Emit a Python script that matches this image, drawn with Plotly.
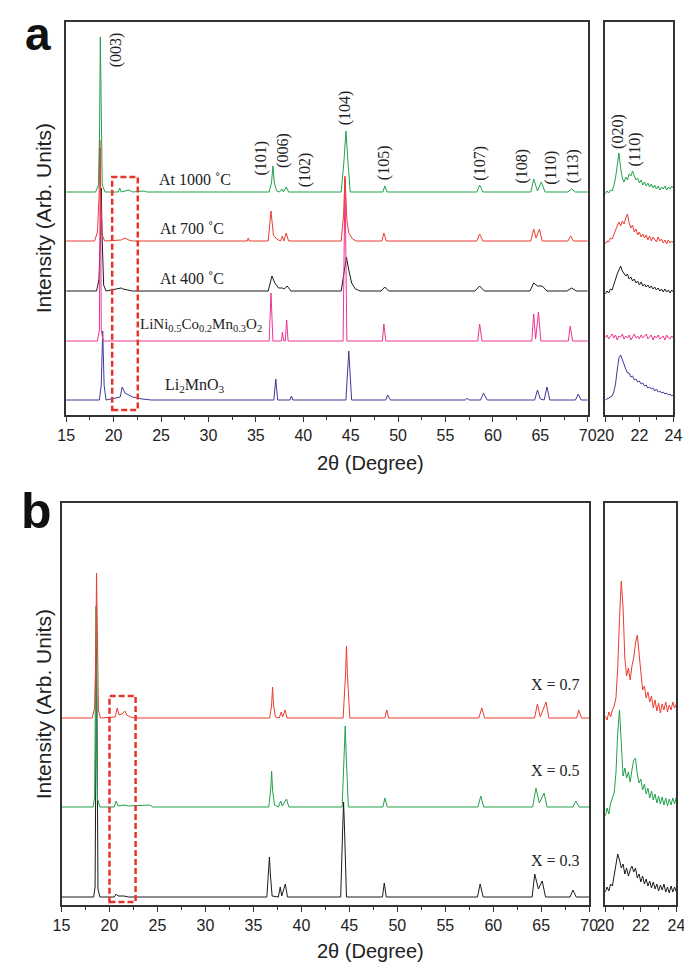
import plotly.graph_objects as go

# ---------------- Panel a : main patterns (2theta, intensity in arb. units incl. offset) -------------
a_green_x = [15, 18.1, 18.4, 18.52, 18.6, 18.68, 18.8, 19.1, 20.5, 20.65, 20.8, 21.2, 21.6, 22.0, 23.2, 23.5,
             36.4, 36.65, 36.8, 36.95, 37.2, 37.5, 37.75, 37.9, 38.2, 38.45, 44.0, 44.3, 44.5, 44.7, 44.95,
             48.4, 48.6, 48.85, 58.3, 58.6, 58.95, 64.0, 64.3, 64.7, 65.1, 65.5, 67.9, 68.3, 68.7, 70]
a_green_y = [223, 223, 230, 285, 378, 285, 230, 223, 223, 227, 223, 224, 225, 223, 224, 223,
             223, 232, 249, 232, 224, 223, 226, 223, 228, 223, 223, 255, 284, 255, 223,
             223, 229, 223, 223, 230, 223, 223, 236, 224, 233, 223, 223, 226, 223, 223]

a_red_x = [15, 18.0, 18.3, 18.47, 18.55, 18.63, 18.8, 19.05, 20.8, 21.2, 21.6, 22.0, 34.1, 34.2, 34.3,
           36.3, 36.6, 36.85, 37.2, 37.6, 37.8, 37.95, 38.2, 38.45, 44.0, 44.25, 44.4, 44.6, 44.8, 45.2, 45.6,
           48.3, 48.5, 48.75, 58.3, 58.6, 58.95, 64.0, 64.3, 64.55, 64.9, 65.2, 67.9, 68.2, 68.5, 70]
a_red_y = [174, 174, 183, 220, 275, 220, 180, 174, 175, 177, 175, 174, 174, 177, 174,
           174, 204, 180, 176, 174, 179, 174, 182, 174, 174, 200, 239, 195, 182, 176, 174,
           174, 182, 174, 174, 181, 174, 174, 186, 177, 186, 174, 174, 179, 174, 174]

a_black_x = [15, 18.2, 18.45, 18.62, 18.7, 18.78, 18.95, 19.2, 20.8, 21.0, 21.5, 22.0,
             36.3, 36.7, 37.0, 37.4, 37.8, 38.0, 38.3, 38.7, 44.0, 44.3, 44.55, 44.8, 45.1, 45.5, 46.0,
             48.2, 48.6, 49.0, 58.1, 58.6, 59.1, 63.9, 64.3, 64.7, 65.2, 65.7, 67.8, 68.3, 68.8, 70]
a_black_y = [124, 124, 135, 180, 227, 180, 130, 124, 127, 126, 125, 124,
             124, 139, 132, 127, 127, 126, 129, 124, 124, 145, 158, 145, 132, 126, 124,
             124, 128, 124, 124, 129, 124, 124, 132, 129, 129, 124, 124, 127, 124, 124]

a_pink_x = [15, 18.3, 18.5, 18.6, 18.7, 18.9, 36.4, 36.6, 36.8, 37.7, 37.8, 37.95, 38.1, 38.25, 38.4,
            44.2, 44.4, 44.6, 48.35, 48.5, 48.7, 58.4, 58.6, 58.85, 64.1, 64.3, 64.5, 64.8, 65.05,
            67.95, 68.15, 68.4, 70]
a_pink_y = [74, 74, 85, 267, 85, 74, 74, 122, 74, 74, 83, 74, 74, 95, 74,
            74, 237, 74, 74, 91, 74, 74, 91, 74, 74, 101, 76, 103, 74,
            74, 89, 74, 74]

a_blue_x = [15, 18.5, 18.7, 18.85, 19.0, 19.2, 20.7, 20.9, 21.2, 22.0, 23.0, 24.0,
            36.9, 37.1, 37.3, 38.6, 38.75, 38.9, 44.5, 44.8, 45.1, 48.7, 48.9, 49.2,
            57.1, 57.3, 57.5, 58.7, 59.0, 59.4, 64.4, 64.7, 65.0, 65.4, 65.7, 66.0,
            68.7, 69.0, 69.3, 70]
a_blue_y = [15, 15, 30, 84, 30, 15, 18, 28, 22, 18, 16, 15,
            15, 36, 15, 15, 19, 15, 15, 64, 15, 15, 20, 15,
            15, 17, 15, 15, 22, 15, 15, 25, 16, 15, 28, 15,
            15, 21, 15, 15]

# ---------------- Insets (20-24 degree zoom) ----------------
inset_x = [20.0, 20.1, 20.2, 20.3, 20.4, 20.5, 20.6, 20.7, 20.8, 20.9,
           21.0, 21.1, 21.2, 21.3, 21.4, 21.5, 21.6, 21.7, 21.8, 21.9,
           22.0, 22.1, 22.2, 22.3, 22.4, 22.5, 22.6, 22.7, 22.8, 22.9,
           23.0, 23.1, 23.2, 23.3, 23.4, 23.5, 23.6, 23.7, 23.8, 23.9, 24.0]

ia_green = [221, 224, 222, 225, 224, 229, 237, 252, 262, 247, 237, 233, 238, 235, 241, 239, 244, 239, 235, 237,
            232, 235, 230, 233, 229, 232, 228, 231, 227, 230, 226, 229, 225, 228, 226, 229, 225, 228, 226, 229, 227]
ia_red = [171, 174, 173, 177, 176, 181, 185, 189, 193, 189, 194, 191, 197, 201, 192, 187, 190, 183, 186, 180,
          183, 178, 181, 177, 180, 175, 179, 174, 178, 176, 173, 178, 174, 176, 172, 175, 171, 175, 172, 174, 172]
ia_black = [121, 124, 122, 126, 125, 131, 135, 141, 145, 149, 144, 142, 139, 141, 136, 138, 134, 136, 132, 134,
            130, 133, 129, 131, 128, 130, 127, 129, 126, 128, 125, 127, 124, 126, 123, 126, 123, 125, 122, 125, 123]
ia_pink = [77, 80, 76, 79, 81, 77, 80, 75, 79, 78, 81, 76, 79, 77, 80, 75, 78, 81, 77, 79,
           76, 80, 77, 79, 81, 76, 78, 80, 75, 79, 77, 80, 76, 78, 79, 75, 80, 77, 76, 79, 77]
ia_blue = [15, 16, 17, 18, 19, 23, 31, 45, 57, 60, 55, 49, 46, 42, 42, 38, 39, 35, 36, 33,
           34, 31, 32, 29, 30, 27, 28, 26, 27, 24, 26, 23, 24, 22, 23, 21, 22, 20, 21, 19, 20]

# ---------------- Panel b : main patterns ----------------
b_red_x = [15, 18.2, 18.45, 18.57, 18.65, 18.73, 18.85, 19.05, 20.6, 20.8, 21.0, 21.3, 21.6, 21.8, 22.2, 22.6,
           36.7, 36.9, 37.0, 37.1, 37.3, 37.7, 37.9, 38.05, 38.3, 38.5, 44.35, 44.6, 44.7, 44.8, 45.05,
           48.7, 48.9, 49.1, 58.5, 58.8, 59.1, 64.3, 64.6, 64.9, 65.5, 65.8, 68.7, 68.9, 69.2, 70]
b_red_y = [187, 187, 197, 250, 332, 250, 195, 187, 188, 197, 190, 191, 194, 190, 188, 187,
           187, 200, 218, 200, 188, 187, 193, 188, 195, 187, 187, 230, 259, 230, 187,
           187, 195, 187, 187, 197, 187, 187, 201, 188, 203, 187, 187, 195, 187, 187]

b_green_x = [15, 18.3, 18.45, 18.53, 18.6, 18.67, 18.75, 19.0, 20.5, 20.7, 20.9, 21.5, 22.0, 24.2, 24.5,
             36.6, 36.8, 36.9, 37.0, 37.2, 37.6, 37.85, 38.0, 38.45, 38.7, 44.25, 44.47, 44.57, 44.67, 44.9,
             48.5, 48.7, 48.95, 58.4, 58.7, 59.0, 64.1, 64.45, 64.8, 65.3, 65.6, 68.3, 68.6, 68.95, 70]
b_green_y = [98, 98, 108, 200, 299, 200, 106, 98, 98, 104, 99, 100, 99, 100, 98,
             98, 115, 134, 115, 100, 98, 104, 99, 106, 98, 98, 150, 179, 150, 98,
             98, 107, 98, 98, 109, 98, 98, 117, 102, 112, 98, 98, 104, 98, 98]

b_black_x = [15, 18.35, 18.5, 18.58, 18.65, 18.72, 18.8, 19.0, 20.5, 20.7, 20.9, 21.5, 22.0,
             36.4, 36.57, 36.67, 36.77, 36.95, 37.6, 37.8, 37.95, 38.33, 38.55, 44.1, 44.3, 44.4, 44.5, 44.7,
             48.45, 48.64, 48.85, 58.35, 58.63, 58.95, 64.05, 64.32, 64.7, 65.1, 65.45,
             68.0, 68.3, 68.65, 70]
b_black_y = [8, 8, 18, 150, 257, 150, 16, 8, 8, 11, 9, 9, 8,
             8, 30, 48, 30, 9, 8, 18, 9, 21, 8, 8, 75, 103, 75, 8,
             8, 22, 8, 8, 21, 8, 8, 31, 16, 24, 8,
             8, 15, 8, 8]

ib_red = [189, 185, 193, 188, 195, 199, 207, 237, 287, 324, 297, 247, 229, 237, 225, 239, 247, 262, 270, 252,
          227, 215, 219, 207, 213, 203, 209, 197, 205, 194, 202, 192, 201, 195, 203, 193, 200, 195, 203, 197, 201]
ib_green = [89, 97, 91, 102, 107, 112, 132, 172, 195, 157, 129, 137, 127, 133, 123, 135, 145, 147, 131, 122,
            126, 115, 121, 111, 117, 107, 114, 105, 111, 102, 109, 101, 108, 100, 107, 99, 106, 100, 107, 101, 108]
ib_black = [13, 18, 14, 21, 19, 29, 39, 51, 45, 37, 41, 31, 37, 29, 35, 39, 33, 37, 27, 31,
            23, 29, 21, 26, 19, 24, 17, 23, 16, 21, 14, 20, 15, 21, 13, 18, 12, 19, 13, 18, 13]

# ---------------- Text ----------------
a_miller = ["(003)", "(101)", "(006)", "(102)", "(104)", "(105)", "(107)", "(108)", "(110)", "(113)", "(020)", "(110)"]
a_samples = ["At 1000 ˚C", "At 700 ˚C", "At 400 ˚C",
             "LiNi<sub>0.5</sub>Co<sub>0.2</sub>Mn<sub>0.3</sub>O<sub>2</sub>", "Li<sub>2</sub>MnO<sub>3</sub>"]
b_samples = ["X = 0.7", "X = 0.5", "X = 0.3"]
main_ticks = [15, 20, 25, 30, 35, 40, 45, 50, 55, 60, 65, 70]
inset_ticks = [20, 22, 24]

GREEN = "#23a04b"
RED = "#ec3b30"
BLACK = "#1b1b1b"
PINK = "#ec3590"
BLUE = "#3d3a96"

W, H = 692, 963
def fx(p):
    return p / W
def fy(p):
    return 1 - p / H

fig = go.Figure()

def add(x, y, color, xa, ya):
    fig.add_trace(go.Scatter(x=x, y=y, mode="lines", line=dict(color=color, width=1),
                             xaxis=xa, yaxis=ya, hoverinfo="skip", showlegend=False))

# panel a main
add(a_blue_x, a_blue_y, BLUE, "x", "y")
add(a_black_x, a_black_y, BLACK, "x", "y")
add(a_pink_x, a_pink_y, PINK, "x", "y")
add(a_red_x, a_red_y, RED, "x", "y")
add(a_green_x, a_green_y, GREEN, "x", "y")
# panel a inset
add(inset_x, ia_blue, BLUE, "x2", "y2")
add(inset_x, ia_black, BLACK, "x2", "y2")
add(inset_x, ia_pink, PINK, "x2", "y2")
add(inset_x, ia_red, RED, "x2", "y2")
add(inset_x, ia_green, GREEN, "x2", "y2")
# panel b main
add(b_black_x, b_black_y, BLACK, "x3", "y3")
add(b_green_x, b_green_y, GREEN, "x3", "y3")
add(b_red_x, b_red_y, RED, "x3", "y3")
# panel b inset
add(inset_x, ib_black, BLACK, "x4", "y4")
add(inset_x, ib_green, GREEN, "x4", "y4")
add(inset_x, ib_red, RED, "x4", "y4")

tickfont = dict(family="Liberation Sans, Arial", size=16, color="#222")
frame = dict(showline=True, linecolor="#333", linewidth=1.5, mirror=True, showgrid=False, zeroline=False)

def xaxis(domain, rng, ticks, minor, anchor):
    return dict(domain=domain, range=rng, tickvals=ticks, ticks="outside", ticklen=5, tickwidth=1.2,
                tickcolor="#333", tickfont=tickfont, anchor=anchor,
                minor=dict(dtick=minor, ticks="outside", ticklen=3, tickwidth=1, tickcolor="#333"), **frame)

def yaxis(domain, rng, anchor):
    return dict(domain=domain, range=rng, showticklabels=False, ticks="", anchor=anchor, **frame)

fig.update_layout(
    width=W, height=H, margin=dict(l=0, r=0, t=0, b=0),
    paper_bgcolor="white", plot_bgcolor="white", showlegend=False,
    xaxis=xaxis([fx(50.5), fx(586)], [15, 70], main_ticks, 2.5, "y"),
    yaxis=yaxis([fy(407), fy(14)], [0, 393], "x"),
    xaxis2=xaxis([fx(604), fx(674)], [20, 24], inset_ticks, 1, "y2"),
    yaxis2=yaxis([fy(407), fy(14)], [0, 393], "x2"),
    xaxis3=xaxis([fx(45.7), fx(587.5)], [15, 70], main_ticks, 2.5, "y3"),
    yaxis3=yaxis([fy(897), fy(495)], [0, 402], "x3"),
    xaxis4=xaxis([fx(604), fx(677)], [20, 24], inset_ticks, 1, "y4"),
    yaxis4=yaxis([fy(897), fy(495)], [0, 402], "x4"),
)

# dashed boxes
dash_line = dict(color="#e8322a", width=2.5, dash="6px,3px")
fig.add_shape(type="rect", xref="x", yref="y", x0=19.85, x1=22.55, y0=5, y1=238, line=dash_line)
fig.add_shape(type="rect", xref="x3", yref="y3", x0=20.0, x1=22.72, y0=3, y1=209, line=dash_line)

serif = "Liberation Serif, Times New Roman"
ann = []
miller_pos = [(102, 42), (251, 150), (273, 142), (296, 162), (337, 100), (377, 155), (475, 155),
              (518, 158), (548, 160), (571, 158), (617, 123), (634, 142)]
for t, (px, py) in zip(a_miller, miller_pos):
    ann.append(dict(text=t, x=fx(px), y=fy(py), xref="paper", yref="paper", textangle=-90,
                    showarrow=False, xanchor="center", yanchor="middle",
                    font=dict(family=serif, size=16, color="#222")))
sample_pos_a = [(183, 172), (180, 220), (180, 270), (189, 317), (183, 377)]
sample_size_a = [16, 16, 16, 15, 16]
for t, (px, py), fs in zip(a_samples, sample_pos_a, sample_size_a):
    ann.append(dict(text=t, x=fx(px), y=fy(py), xref="paper", yref="paper", showarrow=False,
                    xanchor="center", yanchor="middle", font=dict(family=serif, size=fs, color="#222")))
sample_pos_b = [(553, 676), (553, 762), (553, 852)]
for t, (px, py) in zip(b_samples, sample_pos_b):
    ann.append(dict(text=t, x=fx(px), y=fy(py), xref="paper", yref="paper", showarrow=False,
                    xanchor="center", yanchor="middle", font=dict(family=serif, size=16, color="#222")))

sans = "Liberation Sans, Arial"
for py in (210, 696):
    ann.append(dict(text="Intensity (Arb. Units)", x=fx(27), y=fy(py), xref="paper", yref="paper",
                    textangle=-90, showarrow=False, xanchor="center", yanchor="middle",
                    font=dict(family=sans, size=21, color="#222")))
for py in (455, 943):
    ann.append(dict(text="2θ (Degree)", x=fx(363), y=fy(py), xref="paper", yref="paper",
                    showarrow=False, xanchor="center", yanchor="middle",
                    font=dict(family=sans, size=20, color="#222")))
ann.append(dict(text="<b>a</b>", x=fx(22), y=fy(26), xref="paper", yref="paper", showarrow=False,
                xanchor="center", yanchor="middle", font=dict(family=sans, size=46, color="#111")))
ann.append(dict(text="<b>b</b>", x=fx(20), y=fy(503), xref="paper", yref="paper", showarrow=False,
                xanchor="center", yanchor="middle", font=dict(family=sans, size=50, color="#111")))
fig.update_layout(annotations=ann)

fig.write_html("out.html")
